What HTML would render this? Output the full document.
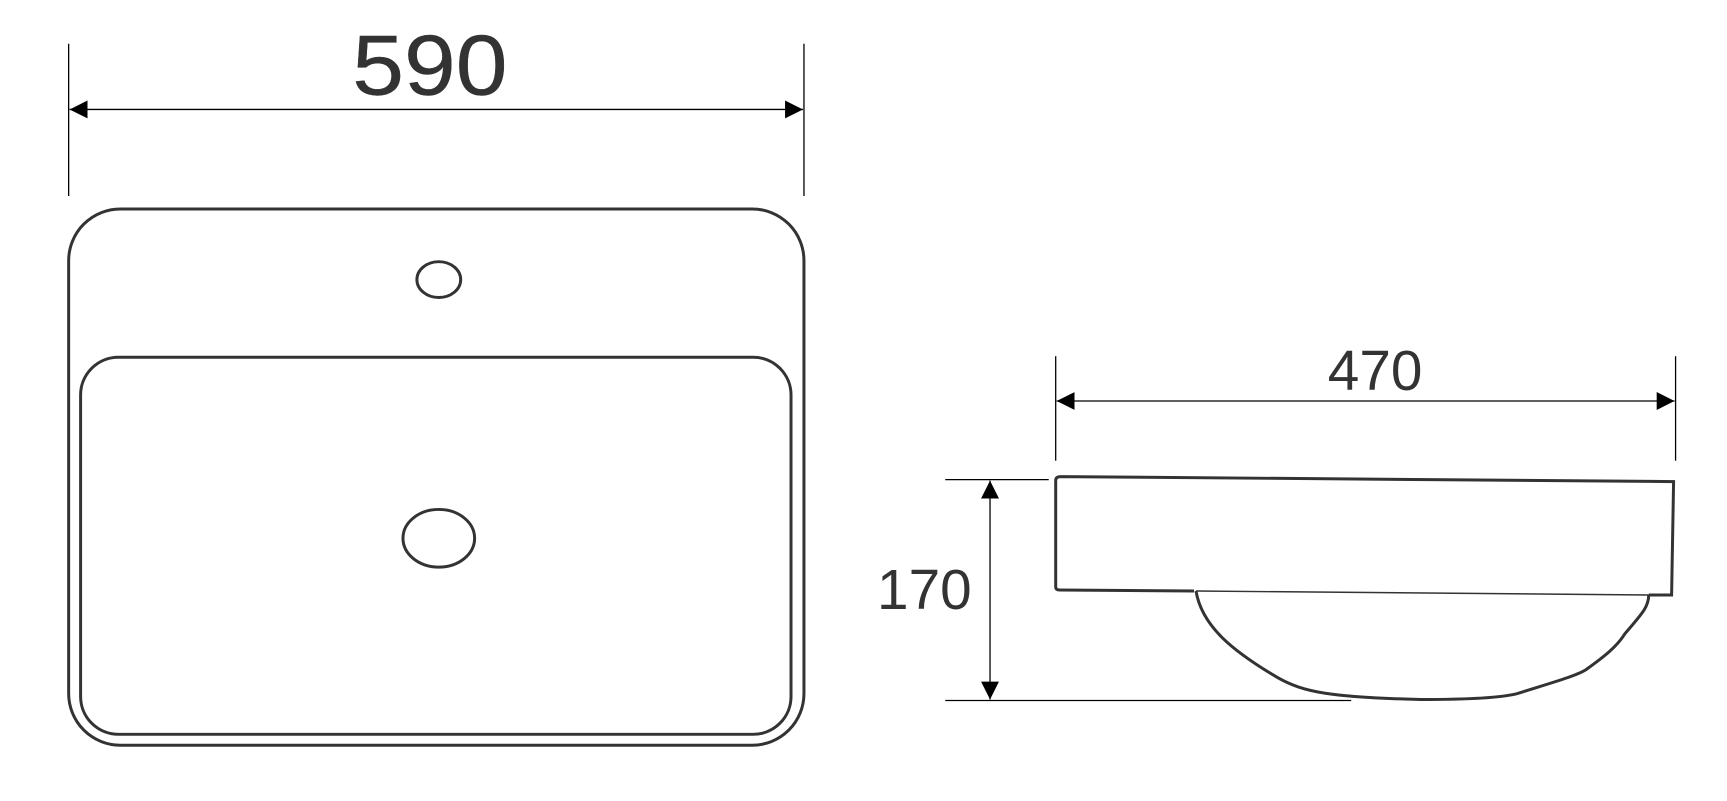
<!DOCTYPE html>
<html><head><style>html,body{margin:0;padding:0;background:#fff;width:1727px;height:801px;overflow:hidden}</style></head>
<body>
<svg width="1727" height="801" viewBox="0 0 1727 801" xmlns="http://www.w3.org/2000/svg">
<defs>
<marker id="a" viewBox="0 0 10 10" refX="10" refY="5" markerWidth="18" markerHeight="18" markerUnits="userSpaceOnUse" orient="auto-start-reverse"><path d="M0,0 L10,5 L0,10 z" fill="#000"/></marker>
</defs>
<g transform="scale(0.995)">
<g stroke="#000" stroke-width="1.3" fill="none">
<line x1="69" y1="44" x2="69" y2="197"/>
<line x1="808" y1="44" x2="808" y2="197"/>
<line x1="70" y1="110" x2="807" y2="110" marker-start="url(#a)" marker-end="url(#a)"/>
<line x1="1061" y1="358" x2="1061" y2="463"/>
<line x1="1684" y1="358" x2="1684" y2="463"/>
<line x1="1062" y1="403" x2="1683" y2="403" marker-start="url(#a)" marker-end="url(#a)"/>
<line x1="950" y1="482" x2="1054" y2="482"/>
<line x1="950" y1="704" x2="1358" y2="704"/>
<line x1="995" y1="483" x2="995" y2="703" marker-start="url(#a)" marker-end="url(#a)"/>
</g>
<g font-family="Liberation Sans, sans-serif" fill="#333" text-anchor="middle">
<text x="432" y="95" font-size="86" stroke="#333" stroke-width="0.4" textLength="156" lengthAdjust="spacingAndGlyphs">590</text>
<text x="1382" y="392" font-size="57">470</text>
<text x="929" y="612" font-size="57">170</text>
</g>
<g stroke="#333" stroke-width="3" fill="none">
<rect x="69" y="210" width="739" height="539" rx="52"/>
<rect x="81" y="359" width="714" height="379" rx="38"/>
<ellipse cx="441" cy="281" rx="22" ry="18"/>
<ellipse cx="441" cy="541" rx="36" ry="29"/>
<path d="M1066,479 L1682,484 L1680,598 L1657,598 M1061,483 Q1061,479 1066,479 M1061,483 L1061,590 Q1061,593 1065,593 L1200,594"/>
<path d="M1202,594 C1208,630 1240,655 1284,681 C1310,696 1340,701 1428,703 C1480,703 1510,701 1525,697 C1560,686 1585,679 1594,673 C1612,660 1625,650 1633,637 C1650,617 1657,610 1657,598"/>
<path d="M1202,594 L1657,598" stroke-width="1.5"/>
</g>
</g>
</svg>
</body></html>
